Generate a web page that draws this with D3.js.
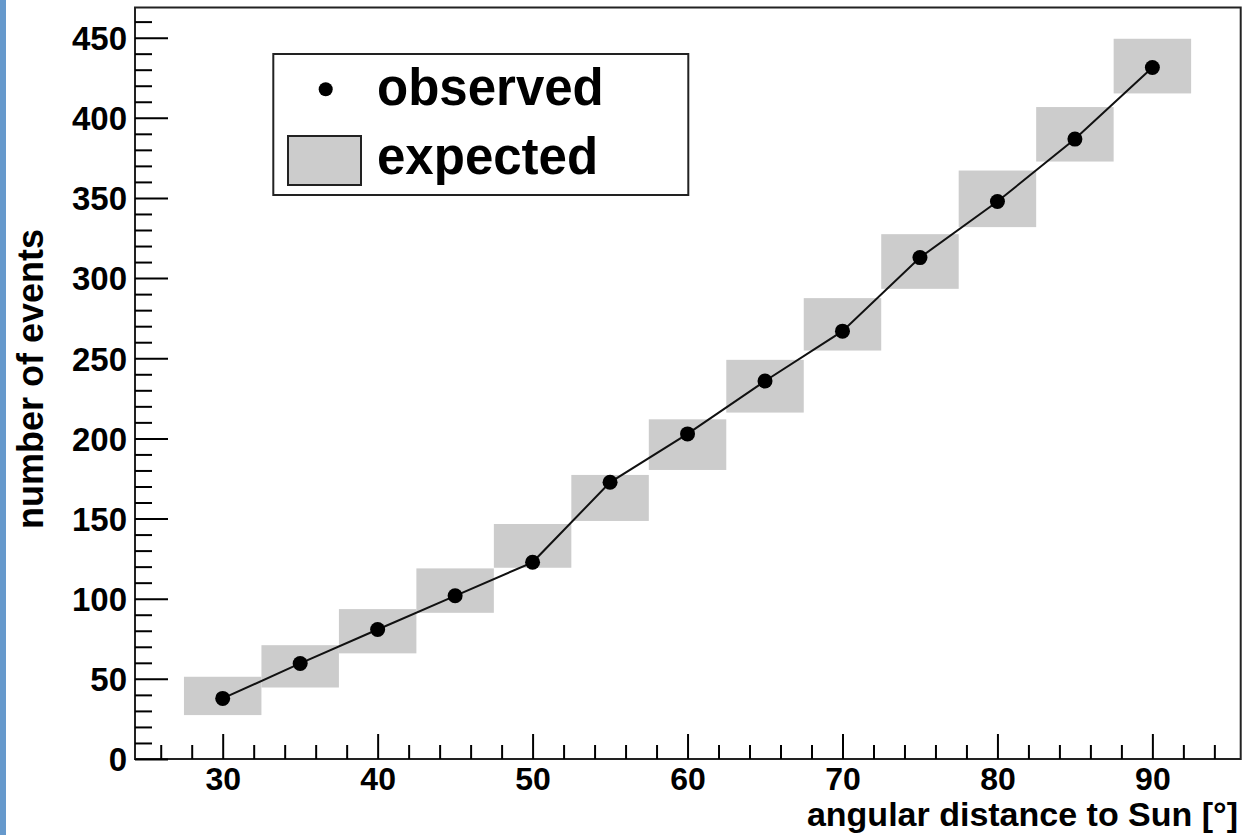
<!DOCTYPE html>
<html>
<head>
<meta charset="utf-8">
<script src="https://cdn.jsdelivr.net/npm/d3@7"></script>
<style>
  html, body { margin: 0; padding: 0; background: #fff; }
  svg { display: block; font-family: "Liberation Sans", Arial, Helvetica, sans-serif; font-weight: bold; }
  .axis .domain { display: none; }
  .axis line { stroke: #000; stroke-width: 2; }
</style>
</head>
<body>
<svg id="chart" width="1259" height="835"></svg>
<script>
// ─── Data ────────────────────────────────────────────────
const angles = [30, 35, 40, 45, 50, 55, 60, 65, 70, 75, 80, 85, 90];
const observed = [37.8, 59.6, 80.8, 101.8, 122.7, 172.6, 202.8, 235.8, 266.9, 312.8, 347.8, 386.7, 431.4];
const expectedLow = [27.4, 44.6, 65.9, 91.2, 119.3, 148.5, 180.3, 216.1, 254.8, 293.3, 331.8, 372.7, 415.2];
const expectedHigh = [51.3, 71.0, 93.5, 118.9, 146.6, 177.2, 211.9, 249.0, 287.5, 327.4, 367.1, 406.7, 449.3];
const binHalfWidth = 2.5;

const xMajorTicks = [30, 40, 50, 60, 70, 80, 90];
const xMinorTicks = d3.range(26, 95, 2).filter(v => v % 10 !== 0);
const yMajorTicks = [0, 50, 100, 150, 200, 250, 300, 350, 400, 450];
const yMinorTicks = d3.range(10, 461, 10).filter(v => v % 50 !== 0);

const legendItems = ['observed', 'expected'];

// ─── Layout ──────────────────────────────────────────────
const frame = { left: 135, right: 1240.7, top: 7.5, bottom: 759 };
const svg = d3.select('#chart');

svg.append('rect').attr('x', 0).attr('y', 0).attr('width', 6).attr('height', 835).attr('fill', '#6699cc');

const x = d3.scaleLinear().domain([24.34, 95.7]).range([frame.left, frame.right]);
const y = d3.scaleLinear().domain([0, 468.8]).range([frame.bottom, frame.top]);

const rows = angles.map((a, i) => ({ a, obs: observed[i], lo: expectedLow[i], hi: expectedHigh[i] }));

// expected bands
svg.append('g').selectAll('rect')
  .data(rows).join('rect')
  .attr('x', d => x(d.a - binHalfWidth))
  .attr('width', d => x(d.a + binHalfWidth) - x(d.a - binHalfWidth))
  .attr('y', d => y(d.hi))
  .attr('height', d => y(d.lo) - y(d.hi))
  .attr('fill', '#cccccc');

// observed line + points
svg.append('path')
  .datum(rows)
  .attr('fill', 'none')
  .attr('stroke', '#111')
  .attr('stroke-width', 2)
  .attr('d', d3.line().x(d => x(d.a)).y(d => y(d.obs)));

svg.append('g').selectAll('circle')
  .data(rows).join('circle')
  .attr('cx', d => x(d.a))
  .attr('cy', d => y(d.obs))
  .attr('r', 7.5)
  .attr('fill', '#000');

// ─── Frame & axes ────────────────────────────────────────
svg.append('rect')
  .attr('x', frame.left).attr('y', frame.top)
  .attr('width', frame.right - frame.left).attr('height', frame.bottom - frame.top)
  .attr('fill', 'none').attr('stroke', '#222').attr('stroke-width', 2);

const yAxis = svg.append('g').attr('class', 'axis').attr('transform', `translate(${frame.left},0)`)
  .call(d3.axisLeft(y).tickValues(yMajorTicks).tickSize(-33).tickPadding(8).tickFormat(d3.format('d')));
yAxis.selectAll('text').attr('font-size', 33).attr('font-family', null).attr('fill', '#000').attr('dy', '0.36em');

svg.append('g').attr('class', 'axis').attr('transform', `translate(${frame.left},0)`)
  .call(d3.axisLeft(y).tickValues(yMinorTicks).tickSize(-17).tickFormat(''));

const xAxis = svg.append('g').attr('class', 'axis').attr('transform', `translate(0,${frame.bottom})`)
  .call(d3.axisBottom(x).tickValues(xMajorTicks).tickSize(-25).tickPadding(8).tickFormat(d3.format('d')));
xAxis.selectAll('text').attr('font-size', 32).attr('font-family', null).attr('fill', '#000').attr('dy', '0.71em');

svg.append('g').attr('class', 'axis').attr('transform', `translate(0,${frame.bottom})`)
  .call(d3.axisBottom(x).tickValues(xMinorTicks).tickSize(-14).tickFormat(''));

// axis titles
svg.append('text')
  .attr('x', 1238).attr('y', 826)
  .attr('text-anchor', 'end')
  .attr('font-size', 34)
  .text('angular distance to Sun [°]');

svg.append('text')
  .attr('transform', 'translate(43,379) rotate(-90)')
  .attr('text-anchor', 'middle')
  .attr('font-size', 36)
  .text('number of events');

// ─── Legend ──────────────────────────────────────────────
const legend = svg.append('g');
legend.append('rect')
  .attr('x', 273.3).attr('y', 54).attr('width', 415).attr('height', 141)
  .attr('fill', '#fff').attr('stroke', '#222').attr('stroke-width', 2);
legend.append('circle').attr('cx', 325.7).attr('cy', 89.3).attr('r', 7).attr('fill', '#000');
legend.append('rect')
  .attr('x', 288).attr('y', 136).attr('width', 73).attr('height', 49)
  .attr('fill', '#cccccc').attr('stroke', '#222').attr('stroke-width', 2);
legend.selectAll('text.lbl')
  .data(legendItems).join('text')
  .attr('class', 'lbl')
  .attr('x', 377)
  .attr('y', (d, i) => [105, 174][i])
  .attr('font-size', 51)
  .text(d => d);
</script>
</body>
</html>
